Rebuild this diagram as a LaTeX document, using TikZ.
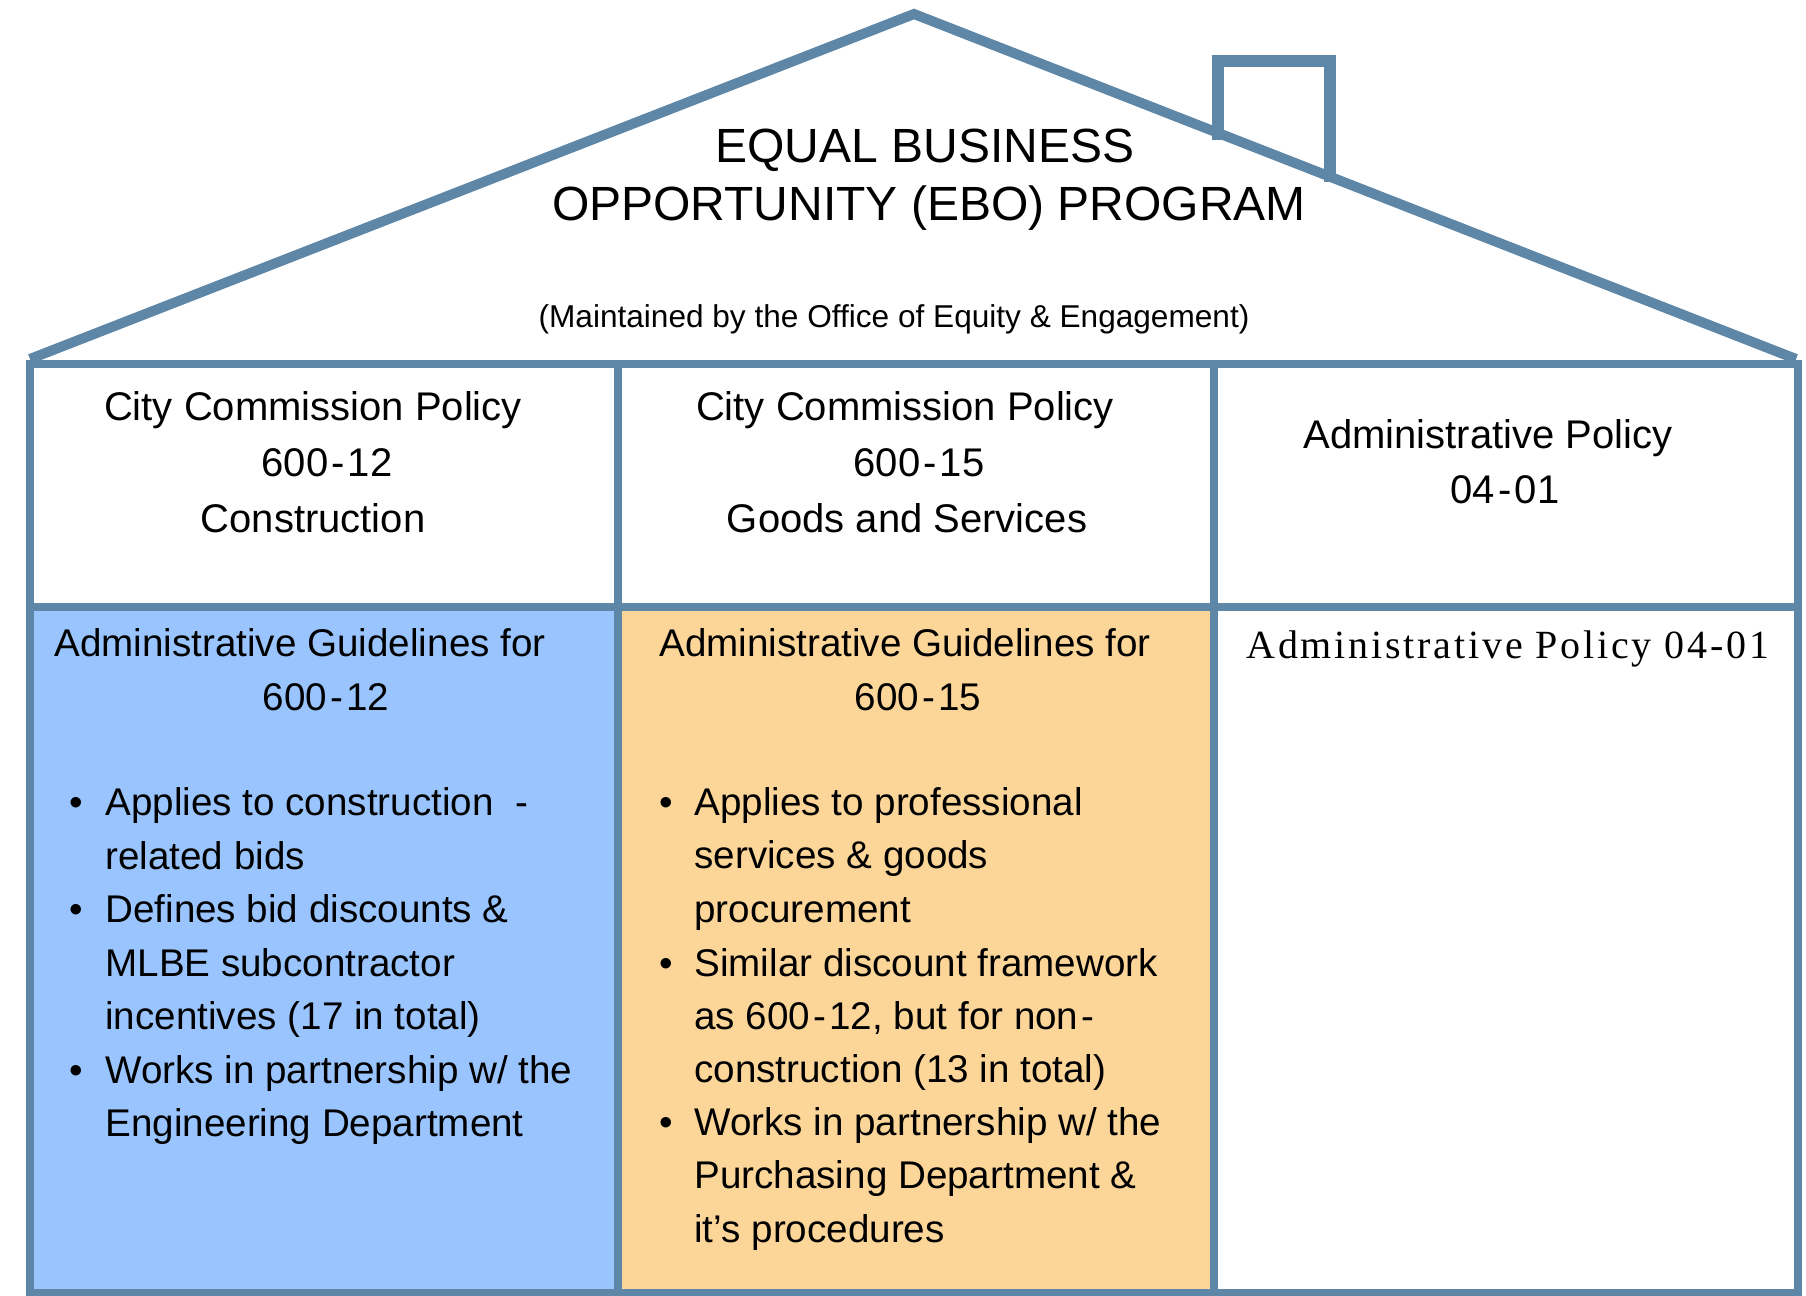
\documentclass[tikz,border=0pt]{standalone}
\usepackage{fontspec}
\setmainfont{Liberation Sans}
\newfontfamily\serifx[LetterSpace=7]{Liberation Serif}
\definecolor{edgeblue}{RGB}{94,134,166}
\definecolor{bluefill}{RGB}{153,196,253}
\definecolor{orangefill}{RGB}{252,213,153}
\newcommand{\hy}{\kern1.6pt-\kern1.6pt}
\tikzset{
  frame/.style={draw=edgeblue, line width=4pt},
  roofline/.style={draw=edgeblue, line width=5pt, line join=miter},
  chim/.style={draw=edgeblue, line width=6pt},
  ttl/.style={inner sep=0, anchor=base, font=\fontsize{24}{28}\selectfont},
  sub/.style={inner sep=0, anchor=base, font=\fontsize{15.8}{19}\selectfont},
  hdr/.style={inner sep=0, anchor=base, font=\fontsize{20}{24}\selectfont},
  ghdr/.style={inner sep=0, anchor=base, font=\fontsize{19.3}{23}\selectfont},
  bul/.style={inner sep=0, anchor=base west, font=\fontsize{19.3}{23}\selectfont},
  bdot/.style={inner sep=0, anchor=base, font=\fontsize{19.3}{23}\selectfont},
  sertxt/.style={inner sep=0, anchor=base west, font=\serifx\fontsize{20}{24}\selectfont},
}
\begin{document}
\begin{tikzpicture}[x=0.5pt,y=-0.5pt]
\useasboundingbox (0,0) rectangle (1806,1296);
\fill[white] (0,0) rectangle (1806,1296);
% fills
\fill[bluefill] (30,607) rectangle (618,1293);
\fill[orangefill] (618,607) rectangle (1214,1293);
% chimney
\draw[chim] (1218,140) -- (1218,61) -- (1330,61) -- (1330,182);
% roof
\draw[roofline] (30,359) -- (914,14) -- (1796,359);
% frame
\draw[frame] (30,364) rectangle (1798,1293);
\draw[frame] (618,364) -- (618,1293);
\draw[frame] (1214,364) -- (1214,1293);
\draw[frame] (30,607) -- (1798,607);
% title
\node[ttl] (t1) at (925,162) {EQUAL BUSINESS};
\node[ttl] (t2) at (929,220) {OPPORTUNITY (EBO) PROGRAM};
\node[sub] (t3) at (894,327) {(Maintained by the Office of Equity \& Engagement)};
% top headers
\node[hdr] (a1) at (313,420) {City Commission Policy};
\node[hdr] (a2) at (327,476) {600\hy 12};
\node[hdr] (a3) at (313,532) {Construction};
\node[hdr] (b1) at (905,420) {City Commission Policy};
\node[hdr] (b2) at (919,476) {600\hy 15};
\node[hdr] (b3) at (907,532) {Goods and Services};
\node[hdr] (c1) at (1488,448) {Administrative Policy};
\node[hdr] (c2) at (1505,503) {04\hy 01};
% bottom headers
\node[ghdr] (d1) at (300,656) {Administrative Guidelines for};
\node[ghdr] (d2) at (326,710) {600\hy 12};
\node[ghdr] (e1) at (905,656) {Administrative Guidelines for};
\node[ghdr] (e2) at (918,710) {600\hy 15};
\node[sertxt] (f1) at (1246,658) {Administrative Policy 04-01};
% bullets col 1
\node[bdot] (p1) at (76,815) {•};
\node[bul] (l1) at (105,815) {Applies to construction\ \ -};
\node[bul] (l2) at (105,869) {related bids};
\node[bdot] (p2) at (76,922) {•};
\node[bul] (l3) at (105,922) {Defines bid discounts \&};
\node[bul] (l4) at (105,976) {MLBE subcontractor};
\node[bul] (l5) at (105,1029) {incentives (17 in total)};
\node[bdot] (p3) at (76,1083) {•};
\node[bul] (l6) at (105,1083) {Works in partnership w/ the};
\node[bul] (l7) at (105,1136) {Engineering Department};
% bullets col 2
\node[bdot] (q1) at (666,815) {•};
\node[bul] (m1) at (694,815) {Applies to professional};
\node[bul] (m2) at (694,868) {services \& goods};
\node[bul] (m3) at (694,922) {procurement};
\node[bdot] (q2) at (666,976) {•};
\node[bul] (m4) at (694,976) {Similar discount framework};
\node[bul] (m5) at (694,1029) {as 600\hy 12, but for non\kern1.6pt-};
\node[bul] (m6) at (694,1082) {construction (13 in total)};
\node[bdot] (q3) at (666,1135) {•};
\node[bul] (m7) at (694,1135) {Works in partnership w/ the};
\node[bul] (m8) at (694,1188) {Purchasing Department \&};
\node[bul] (m9) at (694,1242) {it’s procedures};
\end{tikzpicture}
\end{document}
